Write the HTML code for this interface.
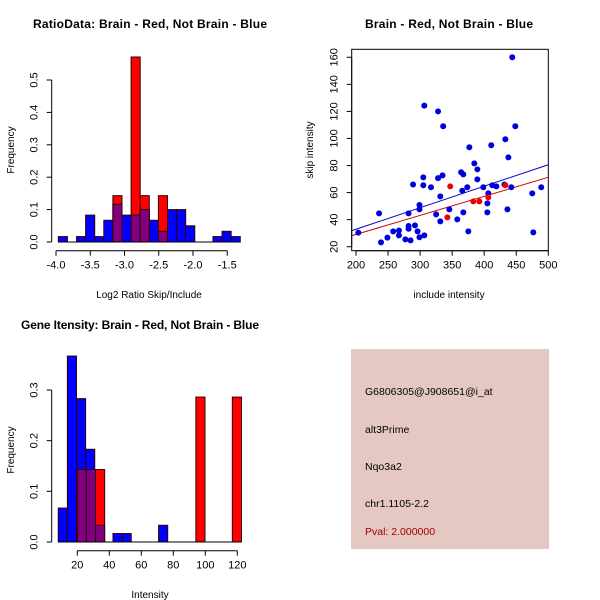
<!DOCTYPE html>
<html><head><meta charset="utf-8"><style>body{margin:0;background:#fff}svg{display:block;font-family:"Liberation Sans",sans-serif}</style></head>
<body>
<svg id="s" width="600" height="600" viewBox="0 0 600 600">
<rect width="600" height="600" fill="#fff"/>
<text x="150" y="28" text-anchor="middle" font-weight="bold" font-size="12" textLength="234">RatioData: Brain - Red, Not Brain - Blue</text>
<text x="449" y="28" text-anchor="middle" font-weight="bold" font-size="12" textLength="168">Brain - Red, Not Brain - Blue</text>
<text x="140" y="329" text-anchor="middle" font-weight="bold" font-size="12" textLength="238">Gene Itensity: Brain - Red, Not Brain - Blue</text>
<g>
<rect x="351" y="349" width="198" height="200" fill="#e6c8c2"/>
<text x="365" y="395" font-size="10.5">G6806305@J908651@i_at</text>
<text x="365" y="433" font-size="10.5">alt3Prime</text>
<text x="365" y="470" font-size="10.5">Nqo3a2</text>
<text x="365" y="507" font-size="10.5">chr1.1105-2.2</text>
<text x="365" y="535" font-size="10.5" fill="#a00000">Pval: 2.000000</text>
</g>
</svg>
<script>
// ---- data: ratio histogram
const ratioBlue=[0.0167,0,0.0167,0.083,0.0167,0.067,0.117,0.083,0.083,0.1,0.067,0.033,0.1,0.1,0.05,0,0,0.0167,0.033,0.0167];
const ratioRed=[0,0,0,0,0,0,0.143,0,0.571,0.143,0,0.143,0,0,0,0,0,0,0,0];
const ratioBreakStart=-3.966, ratioBreakStep=0.1328;
const ratioXTicks=["-4.0","-3.5","-3.0","-2.5","-2.0","-1.5"];
const ratioYTicks=["0.0","0.1","0.2","0.3","0.4","0.5"];
// ---- data: intensity histogram
const intBlue=[0.067,0.367,0.283,0.183,0.033,0,0.0167,0.0167,0,0,0,0.033];
const intBlueStart=8.1;
const intRed=[0.143,0.143,0.143,0,0,0,0,0,0,0,0,0,0,0.286,0,0,0,0.286];
const intRedStart=20;
const intStep=5.7;
const intXTicks=["20","40","60","80","100","120"];
const intYTicks=["0.0","0.1","0.2","0.3"];
// ---- data: scatter
const blueInc=[203.6,236,239,249,258,267,267,277,282,282,282,285,289,292,296,299,299,299,305,305,306.6,306.6,317,325,328,328,331.5,331.5,335,336,345.6,358,364,367.4,365.8,367.4,373.6,375.2,376.8,384.6,389.3,389.3,398.6,404.9,404.9,406.4,411,412.7,419,431.5,433,437.7,436.2,442.3,443.8,448.5,475,476.6,489];
const blueSkip=[30.4,44.6,23.2,26.7,31.3,32,28.4,25.4,33.3,35.3,44.6,24.7,66,35.8,31.3,50.8,47.6,27,71.2,65.4,124.3,28.4,63.9,43.9,70.7,120,57.2,38.7,72.7,109,47.6,40.2,75,73.5,61.4,45.4,63.9,31.3,93.5,81.6,77.2,69.8,63.9,52,45.4,59.4,95,65.4,64.6,66,99.4,86,47.6,63.9,160,109,59.4,30.6,63.9];
const redInc=[347,342.5,383,392.4,406.4,433];
const redSkip=[64.6,41.7,53.5,53.5,56.5,65.4];
const blueFit=[1.1,0.159], redFit=[0.94,0.1407];
const scXTicks=["200","250","300","350","400","450","500"];
const scYTicks=["20","40","60","80","100","120","140","160"];

const NS="http://www.w3.org/2000/svg", svg=document.getElementById('s');
function mk(t,a,p){const e=document.createElementNS(NS,t);for(const k in a)e.setAttribute(k,a[k]);(p||svg).appendChild(e);return e;}
function line(x1,y1,x2,y2,c){return mk('line',{x1,y1,x2,y2,stroke:c||'#000','stroke-width':1});}

function xAxis(ticks,sx,y,label,lx,ly){
  const g=mk('g',{});
  
  
  const v=ticks.map(Number);
  mk('line',{x1:sx(v[0]),y1:y,x2:sx(v[v.length-1]),y2:y,stroke:'#000'},g);
  ticks.forEach((t,i)=>{const x=sx(v[i]);mk('line',{x1:x,y1:y,x2:x,y2:y+5,stroke:'#000'},g);
    const tx=mk('text',{x:x,y:y+18,'text-anchor':'middle','font-size':11},g);tx.textContent=t;
    
    });
  const l=mk('text',{x:lx,y:ly,'text-anchor':'middle','font-size':10},g);l.textContent=label;
  
  
}
function yAxis(ticks,sy,x,label,lx,ly){
  const g=mk('g',{});
  
  
  const v=ticks.map(Number);
  mk('line',{x1:x,y1:sy(v[0]),x2:x,y2:sy(v[v.length-1]),stroke:'#000'},g);
  ticks.forEach((t,i)=>{const y=sy(v[i]);mk('line',{x1:x-5,y1:y,x2:x,y2:y,stroke:'#000'},g);
    const tx=mk('text',{x:x-14,y:y,'text-anchor':'middle','font-size':11,transform:`rotate(-90 ${x-14} ${y})`},g);tx.textContent=t;
    
    });
  const l=mk('text',{x:lx,y:ly,'text-anchor':'middle','font-size':10,transform:`rotate(-90 ${lx} ${ly})`},g);l.textContent=label;
  
  
}
function hist(blue,bStart,red,rStart,step,sx,sy,name){
  const g=mk('g',{});
  
  
  const bar=(x0,h,fill)=>{const r=mk('rect',{x:sx(x0),y:sy(h),width:sx(x0+step)-sx(x0),height:sy(0)-sy(h),fill,stroke:'#300','stroke-width':1},g);
    
    };
  blue.forEach((h,i)=>{if(h>0)bar(bStart+i*step,h,'#0000ff');});
  red.forEach((h,i)=>{if(h>0){const x0=rStart+i*step;bar(x0,h,'#ff0000');
    const bi=Math.round((x0-bStart)/step);const bh=blue[bi]||0;
    if(bh>0&&Math.abs(bStart+bi*step-x0)<step/2)bar(x0,Math.min(bh,h),'#800080');}});
}

// Ratio histogram
{const sx=v=>56+(v+4)*68.5, sy=v=>242-v*324;
 hist(ratioBlue,ratioBreakStart,ratioRed,ratioBreakStart,ratioBreakStep,sx,sy,'ratio-histogram');
 mk('line',{x1:sx(-3.966),y1:242,x2:sx(-3.966+20*ratioBreakStep),y2:242,stroke:'#000'});
 xAxis(ratioXTicks,sx,250.7,'Log2 Ratio Skip/Include',149,298);
 yAxis(ratioYTicks,sy,51.7,'Frequency',14,150);}

// Intensity histogram
{const sx=v=>77.3+(v-20)*1.6, sy=v=>542-v*506.7;
 hist(intBlue,intBlueStart,intRed,intRedStart,intStep,sx,sy,'intensity-histogram');
 mk('line',{x1:sx(8.1),y1:542,x2:sx(20+18*intStep),y2:542,stroke:'#000'});
 xAxis(intXTicks,sx,550.7,'Intensity',150,598);
 yAxis(intYTicks,sy,51.7,'Frequency',14,450);}

// Scatter
{const sx=v=>356+(v-200)*0.641, sy=v=>246.7-(v-20)*1.3529;
 const box=mk('rect',{x:351.7,y:49.3,width:196.6,height:201.4,fill:'none',stroke:'#000'});
 
 
 const xa=193, xb=500;
 [[blueFit,'#0000cc','blue-fit-line'],[redFit,'#cc0000','red-fit-line']].forEach(([f,c,n])=>{
   const l=line(sx(xa),sy(f[0]+f[1]*xa),sx(xb),sy(f[0]+f[1]*xb),c);
   
   });
 blueInc.forEach((v,i)=>{const c=mk('circle',{cx:sx(v),cy:sy(blueSkip[i]),r:3,fill:'#0000dd'});
   
   });
 redInc.forEach((v,i)=>{const c=mk('circle',{cx:sx(v),cy:sy(redSkip[i]),r:3,fill:'#ee0000'});
   
   });
 xAxis(scXTicks,sx,250.7,'include intensity',449,298);
 yAxis(scYTicks,sy,351.7,'skip intensity',313,150);}
</script>
</body></html>
